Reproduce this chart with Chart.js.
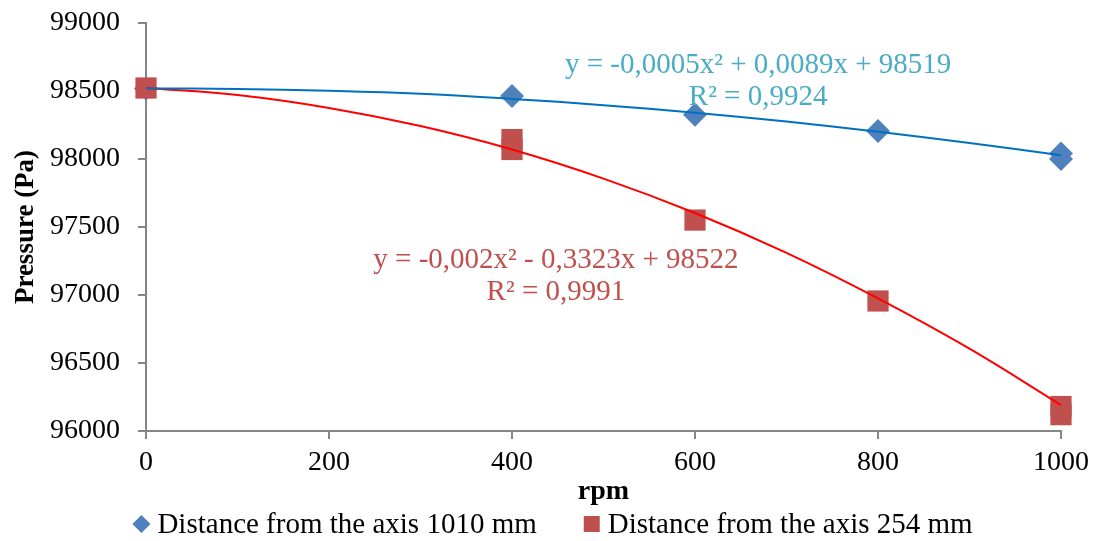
<!DOCTYPE html>
<html>
<head>
<meta charset="utf-8">
<script src="https://cdn.jsdelivr.net/npm/chart.js@4.4.1/dist/chart.umd.min.js"></script>
<style>
  html, body { margin: 0; padding: 0; background: #fff; }
  #wrap { width: 1093px; height: 541px; }
</style>
</head>
<body>
<div id="wrap"><canvas id="myChart"></canvas></div>
<script>
// measured points
var rpm1010 = [0, 400, 600, 800, 1000, 1000];
var pa1010 = [98519, 98463, 98325, 98205, 98040, 98000];
var rpm254 = [0, 400, 400, 600, 800, 1000, 1000];
var pa254 = [98522, 98143, 98070, 97551, 96956, 96180, 96120];

// trendlines
var trendRpm = [0, 100, 200, 300, 400, 500, 600, 700, 800, 900, 1000];
var trend1010 = [98519, 98515, 98502, 98480, 98442, 98396, 98340, 98275, 98200, 98118, 98028];
var trend254 = [98522, 98470, 98375, 98242, 98070, 97856, 97603, 97310, 96975, 96605, 96190];

var yTicks = [96000, 96500, 97000, 97500, 98000, 98500, 99000];
var xTicks = [0, 200, 400, 600, 800, 1000];

var eq1010 = ["y = -0,0005x² + 0,0089x + 98519", "R² = 0,9924"];
var eq254 = ["y = -0,002x² - 0,3323x + 98522", "R² = 0,9991"];

function pts(xs, ys) {
  return xs.map(function (x, i) { return { x: x, y: ys[i] }; });
}

var serif = "'Liberation Serif', 'Times New Roman', serif";

// equation labels, anchored in data units like excel does
var eqPlugin = {
  id: 'eqLabels',
  afterDatasetsDraw: function (chart) {
    var c = chart.ctx, xs = chart.scales.x, ys = chart.scales.y;
    c.save();
    c.font = "29px " + serif;
    c.textAlign = "center";
    c.textBaseline = "middle";
    c.fillStyle = "#4bacc6";
    c.fillText(eq1010[0], xs.getPixelForValue(669), ys.getPixelForValue(98691));
    c.fillText(eq1010[1], xs.getPixelForValue(669), ys.getPixelForValue(98456));
    c.fillStyle = "#c0504d";
    c.fillText(eq254[0], xs.getPixelForValue(448), ys.getPixelForValue(97257));
    c.fillText(eq254[1], xs.getPixelForValue(448), ys.getPixelForValue(97022));
    c.restore();
  }
};

// excel style legend, items spaced wider than chart.js does
var legendPlugin = {
  id: 'bottomLegend',
  afterDraw: function (chart) {
    var c = chart.ctx;
    var items = chart.data.datasets.filter(function (d) { return !d.isTrend; });
    c.save();
    c.font = "29px " + serif;
    c.textBaseline = "middle";
    c.textAlign = "left";
    var sym = 18, gap = 7, space = 46;
    var total = 0;
    items.forEach(function (d, i) {
      total += sym + gap + c.measureText(d.label).width + (i ? space : 0);
    });
    var x = chart.width / 2 + 6 - total / 2;
    var y = chart.height - 17;
    items.forEach(function (d, i) {
      if (i) x += space;
      c.fillStyle = d.backgroundColor;
      c.beginPath();
      if (d.pointStyle === 'rectRot') {
        c.moveTo(x + sym / 2, y - sym / 2);
        c.lineTo(x + sym, y);
        c.lineTo(x + sym / 2, y + sym / 2);
        c.lineTo(x, y);
        c.closePath();
      } else {
        c.rect(x + 1, y - sym / 2 + 1, sym - 2, sym - 2);
      }
      c.fill();
      x += sym + gap;
      c.fillStyle = "#000";
      c.fillText(d.label, x, y + 1);
      x += c.measureText(d.label).width;
    });
    c.restore();
  }
};

var ctx = document.getElementById('myChart');
var myChart = new Chart(ctx, {
  type: 'scatter',
  data: {
    datasets: [
      {
        label: 'Distance from the axis 1010 mm',
        data: pts(rpm1010, pa1010),
        pointStyle: 'rectRot',
        pointRadius: 12,
        backgroundColor: "#4f81bd",
        borderColor: "#4f81bd",
        borderWidth: 0,
        clip: false,
        order: 2
      },
      {
        label: 'Distance from the axis 254 mm',
        data: pts(rpm254, pa254),
        pointStyle: 'rect',
        pointRadius: 15,
        backgroundColor: "#c0504d",
        borderColor: "#c0504d",
        borderWidth: 0,
        clip: false,
        order: 1
      },
      {
        label: 'trend1010',
        isTrend: true,
        data: pts(trendRpm, trend1010),
        showLine: true,
        tension: 0.4,
        pointRadius: 0,
        borderColor: "#0070c0",
        borderWidth: 2,
        fill: false,
        clip: false,
        order: 0
      },
      {
        label: 'trend254',
        isTrend: true,
        data: pts(trendRpm, trend254),
        showLine: true,
        tension: 0.4,
        pointRadius: 0,
        borderColor: "#ff0000",
        borderWidth: 2,
        fill: false,
        clip: false,
        order: 0
      }
    ]
  },
  options: {
    responsive: true,
    maintainAspectRatio: false,
    animation: false,
    layout: { padding: { left: 0, right: 32, top: 23, bottom: 32 } },
    plugins: {
      tooltip: { enabled: false },
      legend: { display: false }
    },
    scales: {
      x: {
        type: 'linear',
        min: 0,
        max: 1000,
        afterBuildTicks: function (s) { s.ticks = xTicks.map(function (v) { return { value: v }; }); },
        afterFit: function (s) { s.height = 78; s.paddingLeft = 0; s.paddingRight = 0; },
        grid: { drawOnChartArea: false, drawTicks: true, tickLength: 8, color: "#868686", lineWidth: 2 },
        border: { color: "#868686", width: 2 },
        ticks: {
          color: "#000", font: { family: serif, size: 28 }, padding: 7,
          callback: function (v) { return String(v); }
        },
        title: {
          display: true,
          text: 'rpm',
          color: "#000",
          font: { family: serif, size: 28, weight: 'bold' },
          padding: { top: 0, bottom: 0 }
        }
      },
      y: {
        min: 96000,
        max: 99000,
        afterBuildTicks: function (s) { s.ticks = yTicks.map(function (v) { return { value: v }; }); },
        afterFit: function (s) { s.width = 146; s.paddingTop = 0; s.paddingBottom = 0; },
        grid: { drawOnChartArea: false, drawTicks: true, tickLength: 8, color: "#868686", lineWidth: 2 },
        border: { color: "#868686", width: 2 },
        ticks: {
          color: "#000", font: { family: serif, size: 28 }, padding: 18,
          callback: function (v) { return String(v); }
        },
        title: {
          display: true,
          text: 'Pressure (Pa)',
          color: "#000",
          font: { family: serif, size: 27, weight: 'bold' },
          padding: { top: 10, bottom: 4 }
        }
      }
    }
  },
  plugins: [eqPlugin, legendPlugin]
});
</script>
</body>
</html>
